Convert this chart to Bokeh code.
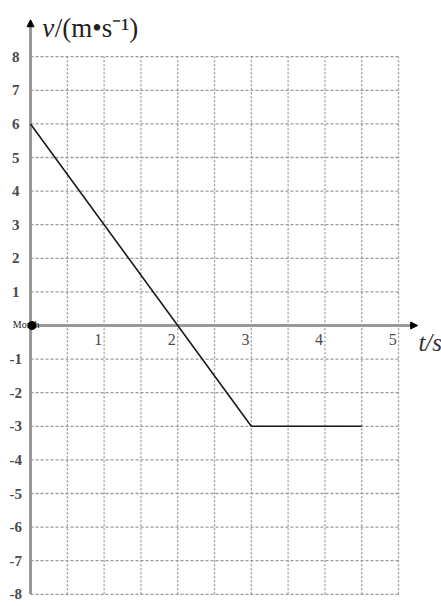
from bokeh.plotting import figure
from bokeh.models import Range1d, Arrow, NormalHead
from bokeh.core.properties import value
from bokeh.embed import file_html
from bokeh.resources import INLINE

# data
t_vals = [0, 3, 4.5]
v_vals = [6, -3, -3]
x_ticks = [1, 2, 3, 4, 5]
y_ticks = [8, 7, 6, 5, 4, 3, 2, 1, -1, -2, -3, -4, -5, -6, -7, -8]
x_grid = [0.5, 1, 1.5, 2, 2.5, 3, 3.5, 4, 4.5, 5]
y_grid = [-8, -7, -6, -5, -4, -3, -2, -1, 1, 2, 3, 4, 5, 6, 7, 8]
x_min, x_max = 0, 5
y_min, y_max = -8, 8

W, H = 441, 606
p = figure(width=W, height=H, output_backend="svg", toolbar_location=None,
           x_range=Range1d(-0.408, 5.584), y_range=Range1d(-8.363, 9.673),
           min_border=0, outline_line_color=None)
p.axis.visible = False
p.grid.visible = False
p.background_fill_color = "white"

gc = "#9a9a9a"
# horizontal grid
p.segment(x0=[x_min] * len(y_grid), x1=[x_max] * len(y_grid), y0=y_grid, y1=y_grid,
          line_color=gc, line_width=1.3, line_dash="3 2")
# vertical grid
p.segment(x0=x_grid, x1=x_grid, y0=[y_min] * len(x_grid), y1=[y_max] * len(x_grid),
          line_color=gc, line_width=1.3, line_dash="2 2")

# axes
p.segment(x0=[0], x1=[0], y0=[y_min], y1=[9.05], line_color="#999999", line_width=3)
p.segment(x0=[0], x1=[5.22], y0=[0], y1=[0], line_color="#999999", line_width=3)
p.add_layout(Arrow(end=NormalHead(size=7, fill_color="black", line_color="black"),
                   x_start=0, y_start=8.9, x_end=0, y_end=9.1, line_color="#999999", line_width=0))
p.add_layout(Arrow(end=NormalHead(size=7, fill_color="black", line_color="black"),
                   x_start=5.15, y_start=0, x_end=5.26, y_end=0, line_color="#999999", line_width=0))

# data line
p.line(t_vals, v_vals, line_color="#1a1a1a", line_width=1.6)

# tick labels
p.text(x=[-0.2] * len(y_ticks), y=y_ticks, text=[str(v) for v in y_ticks],
       text_font=value("Liberation Serif"), text_font_size="15px", text_color="#4a4a4a",
       text_font_style="bold", text_align="center", text_baseline="middle")
p.text(x=[t - 0.08 for t in x_ticks], y=[-0.42] * len(x_ticks), text=[str(t) for t in x_ticks],
       text_font=value("Liberation Serif"), text_font_size="16px", text_color="#4a4a4a",
       text_align="center", text_baseline="middle")

# axis titles
p.text(x=[0.16], y=[8.85], text=["v"], text_font=value("Liberation Serif"),
       text_font_style="italic", text_font_size="27px", text_color="#222222",
       text_align="left", text_baseline="middle")
p.text(x=[0.33], y=[8.85], text=["/(m•s⁻¹)"], text_font=value("Liberation Serif"),
       text_font_size="27px", text_color="#222222",
       text_align="left", text_baseline="middle")
p.text(x=[5.27], y=[-0.5], text=["t/s"], text_font=value("Liberation Serif"),
       text_font_style="italic", text_font_size="25px", text_color="#333333",
       text_align="left", text_baseline="middle")

# origin marker
p.text(x=[-0.24], y=[0.03], text=["Month"], text_font=value("Liberation Serif"),
       text_font_size="10px", text_color="#222222", text_align="left", text_baseline="middle")
p.scatter(x=[0.02], y=[0], size=8, fill_color="black", line_color="black")

open("out.html", "w").write(file_html(p, INLINE))
